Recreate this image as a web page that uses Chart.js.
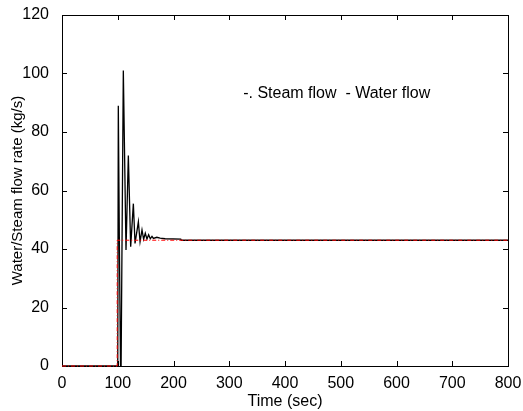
<!DOCTYPE html>
<html>
<head>
<meta charset="utf-8">
<script src="https://cdn.jsdelivr.net/npm/chart.js@4"></script>
<style>
  html, body { margin: 0; padding: 0; background: #fff; }
  #wrap { width: 523px; height: 411px; }
</style>
</head>
<body>
<div id="wrap"><canvas id="flowChart" width="523" height="411"></canvas></div>
<script>
// water flow (black solid)
const waterTime = [0, 100, 101, 103, 105, 106, 110, 114.8, 119, 123.2, 128, 131, 137, 140, 143.5, 146.4, 149.4, 152.4, 155.4, 158.4, 161.4, 164, 170, 176, 185, 213, 214, 800];
const waterFlow = [0, 0, 89, 40, 0, 0, 101, 39.7, 72, 40.8, 55.5, 41.9, 49.3, 42.5, 46.5, 43.3, 45.4, 43.4, 44.9, 43.5, 44.3, 43.6, 44, 43.7, 43.5, 43.4, 43, 43];
// steam flow (red dash-dot)
const steamTime = [0, 99, 99, 800];
const steamFlow = [0, 0, 43, 43];

const xTicks = [0, 100, 200, 300, 400, 500, 600, 700, 800];
const yTicks = [0, 20, 40, 60, 80, 100, 120];
const legendText = "-. Steam flow  - Water flow";

const FONT = "'Liberation Sans', Arial, sans-serif";

function toPoints(xs, ys) {
  return xs.map((x, i) => ({ x: x, y: ys[i] }));
}

// box around the plot + inward ticks on all four sides, drawn under the lines
const boxPlugin = {
  id: "boxPlugin",
  beforeDatasetsDraw(chart) {
    const ctx = chart.ctx;
    const a = chart.chartArea;
    const xs = chart.scales.x;
    const ys = chart.scales.y;
    ctx.save();
    ctx.strokeStyle = "#000";
    ctx.lineWidth = 1;
    ctx.strokeRect(Math.round(a.left) + 0.5, Math.round(a.top) + 0.5, Math.round(a.right - a.left), Math.round(a.bottom - a.top));
    ctx.beginPath();
    xTicks.forEach(v => {
      const px = Math.round(xs.getPixelForValue(v)) + 0.5;
      ctx.moveTo(px, a.bottom); ctx.lineTo(px, a.bottom - 5);
      ctx.moveTo(px, a.top); ctx.lineTo(px, a.top + 5);
    });
    yTicks.forEach(v => {
      const py = Math.round(ys.getPixelForValue(v)) + 0.5;
      ctx.moveTo(a.left, py); ctx.lineTo(a.left + 5, py);
      ctx.moveTo(a.right, py); ctx.lineTo(a.right - 5, py);
    });
    ctx.stroke();
    ctx.restore();
  },
  afterDraw(chart) {
    const ctx = chart.ctx;
    ctx.save();
    ctx.fillStyle = "#000";
    ctx.font = "16px " + FONT;
    ctx.textAlign = "left";
    ctx.textBaseline = "middle";
    ctx.fillText(legendText, chart.scales.x.getPixelForValue(325), chart.scales.y.getPixelForValue(93.3));
    ctx.restore();
  }
};

new Chart(document.getElementById("flowChart"), {
  type: "scatter",
  data: {
    datasets: [
      {
        label: "Steam flow",
        data: toPoints(steamTime, steamFlow),
        showLine: true,
        borderColor: "#ff0000",
        borderWidth: 1,
        borderDash: [4, 2, 1, 2],
        pointRadius: 0,
        tension: 0,
        clip: 2
      },
      {
        label: "Water flow",
        data: toPoints(waterTime, waterFlow),
        showLine: true,
        borderColor: "#000",
        borderWidth: 1.3,
        pointRadius: 0,
        tension: 0,
        clip: 2
      }
    ]
  },
  options: {
    responsive: false,
    animation: false,
    layout: { padding: { top: 15, right: 15, left: 0, bottom: 0 } },
    plugins: {
      legend: { display: false },
      tooltip: { enabled: false }
    },
    scales: {
      x: {
        type: "linear",
        min: 0,
        max: 800,
        afterBuildTicks: (s) => { s.ticks = xTicks.map(v => ({ value: v })); },
        afterFit: (s) => { s.height = 45; },
        grid: { display: false },
        border: { display: false },
        ticks: { color: "#000", font: { size: 16, family: FONT }, padding: 0, maxRotation: 0 },
        title: { display: true, text: "Time (sec)", color: "#000", font: { size: 16, family: FONT }, padding: { top: 0, bottom: 0 } }
      },
      y: {
        type: "linear",
        min: 0,
        max: 120,
        afterBuildTicks: (s) => { s.ticks = yTicks.map(v => ({ value: v })); },
        afterFit: (s) => { s.width = 62; },
        grid: { display: false },
        border: { display: false },
        ticks: { color: "#000", font: { size: 16, family: FONT }, padding: 5 },
        title: { display: true, text: "Water/Steam flow rate (kg/s)", color: "#000", font: { size: 15, family: FONT }, padding: { top: 8.5, bottom: 0 } }
      }
    }
  },
  plugins: [boxPlugin]
});
</script>
</body>
</html>
